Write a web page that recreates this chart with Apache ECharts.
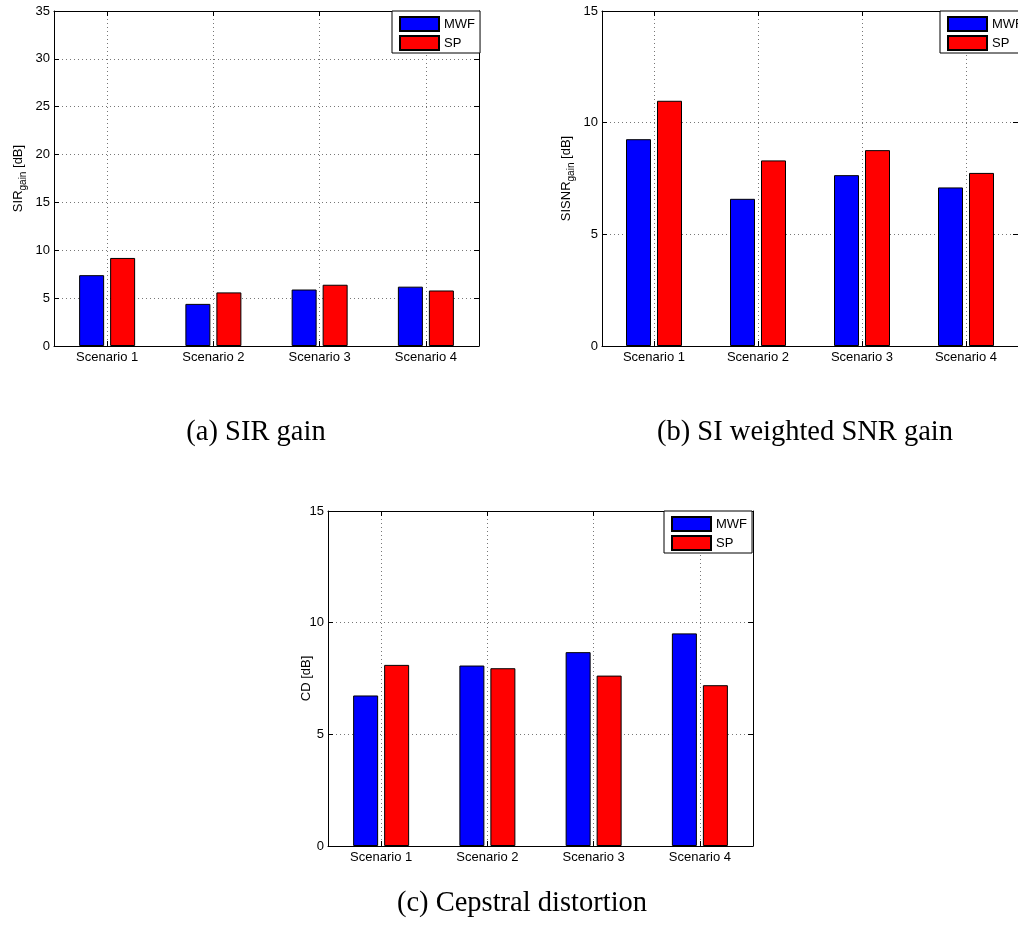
<!DOCTYPE html>
<html>
<head>
<meta charset="utf-8">
<script src="https://cdn.jsdelivr.net/npm/echarts@6/dist/echarts.min.js"></script>
<style>
html,body{margin:0;padding:0;background:#fff;}
#c{width:1018px;height:941px;}
</style>
</head>
<body>
<div id="c"></div>
<script>
// ---- data ----
var categories = ['Scenario 1', 'Scenario 2', 'Scenario 3', 'Scenario 4'];
var seriesNames = ['MWF', 'SP'];
var sirMWF = [7.4, 4.4, 5.9, 6.2];
var sirSP = [9.2, 5.6, 6.4, 5.8];
var sisnrMWF = [9.26, 6.59, 7.65, 7.10];
var sisnrSP = [10.98, 8.31, 8.77, 7.75];
var cdMWF = [6.74, 8.08, 8.68, 9.52];
var cdSP = [8.11, 7.96, 7.63, 7.20];
var yMaxA = 35, yMaxB = 15, yMaxC = 15, yStep = 5;
var captions = ['(a) SIR gain', '(b) SI weighted SNR gain', '(c) Cepstral distortion'];

var FONT = 'Liberation Sans, Arial, Helvetica, sans-serif';
var SERIF = 'Liberation Serif, Times New Roman, serif';
var dotted = { type: [1, 3], color: '#777', width: 1 };

var panels = [
  { left: 54, top: 11, max: yMaxA, mwf: sirMWF, sp: sirSP, name: 'SIR{sub|gain} [dB]', gap: 26, legendLeft: 392 },
  { left: 602, top: 11, max: yMaxB, mwf: sisnrMWF, sp: sisnrSP, name: 'SISNR{sub|gain} [dB]', gap: 26, legendLeft: 940 },
  { left: 328, top: 511, max: yMaxC, mwf: cdMWF, sp: cdSP, name: 'CD [dB]', gap: 15, legendLeft: 664 }
];

var grid = [], xAxis = [], yAxis = [], series = [], legend = [];
panels.forEach(function (p, i) {
  grid.push({ left: p.left, top: p.top, width: 425, height: 335, containLabel: false });
  xAxis.push({
    type: 'category', gridIndex: i, data: categories, position: 'bottom',
    axisLine: { show: true, lineStyle: { color: '#000', width: 1 } },
    axisTick: { show: true, inside: true, alignWithLabel: true, length: 5, lineStyle: { color: '#000' } },
    axisLabel: { show: true, color: '#000', fontSize: 13, fontFamily: FONT, margin: 5 },
    splitLine: { show: true, alignWithLabel: true, lineStyle: dotted }
  });
  xAxis.push({
    type: 'category', gridIndex: i, data: categories, position: 'top',
    axisLine: { show: true, onZero: false, lineStyle: { color: '#000', width: 1 } },
    axisTick: { show: true, inside: true, alignWithLabel: true, length: 5, lineStyle: { color: '#000' } },
    axisLabel: { show: false }, splitLine: { show: false }
  });
  yAxis.push({
    type: 'value', gridIndex: i, min: 0, max: p.max, interval: yStep, position: 'left',
    name: p.name, nameLocation: 'middle', nameRotate: 90, nameGap: p.gap, nameMoveOverlap: false,
    nameTextStyle: {
      color: '#000', fontSize: 13, fontFamily: FONT,
      rich: { sub: { fontSize: 10, fontFamily: FONT, color: '#000', padding: [9, 0, 0, 0], verticalAlign: 'top' } }
    },
    axisLine: { show: true, lineStyle: { color: '#000', width: 1 } },
    axisTick: { show: true, inside: true, length: 5, lineStyle: { color: '#000' } },
    axisLabel: { show: true, color: '#000', fontSize: 13, fontFamily: FONT, margin: 4 },
    splitLine: { show: true, lineStyle: dotted }
  });
  yAxis.push({
    type: 'value', gridIndex: i, min: 0, max: p.max, interval: yStep, position: 'right',
    axisLine: { show: true, onZero: false, lineStyle: { color: '#000', width: 1 } },
    axisTick: { show: true, inside: true, length: 5, lineStyle: { color: '#000' } },
    axisLabel: { show: false }, splitLine: { show: false }
  });
  var style = { borderColor: '#000', borderWidth: 1 };
  series.push({
    type: 'bar', name: seriesNames[0], xAxisIndex: i * 2, yAxisIndex: i * 2, data: p.mwf,
    barWidth: 25, barGap: '24%', itemStyle: Object.assign({ color: '#0000ff' }, style)
  });
  series.push({
    type: 'bar', name: seriesNames[1], xAxisIndex: i * 2, yAxisIndex: i * 2, data: p.sp,
    barWidth: 25, barGap: '24%', itemStyle: Object.assign({ color: '#ff0000' }, style)
  });
  legend.push({
    orient: 'vertical', left: p.legendLeft, top: p.top, data: seriesNames,
    icon: 'rect', itemWidth: 39, itemHeight: 14, itemGap: 3,
    padding: [5, 5, 2, 7], backgroundColor: '#fff', borderColor: '#000', borderWidth: 1,
    textStyle: { color: '#000', fontSize: 13, fontFamily: FONT, lineHeight: 14 },
    selectedMode: false
  });
});

var capPos = [[256, 433], [805, 433], [522, 904]];
var graphic = captions.map(function (t, i) {
  return {
    type: 'text', x: capPos[i][0], y: capPos[i][1], silent: true,
    style: { text: t, align: 'center', verticalAlign: 'middle', fill: '#000', font: '28.5px ' + SERIF }
  };
});

var chart = echarts.init(document.getElementById('c'), null, { renderer: 'canvas' });
chart.setOption({
  backgroundColor: '#fff',
  animation: false,
  grid: grid, xAxis: xAxis, yAxis: yAxis, series: series, legend: legend,
  graphic: graphic
});
</script>
</body>
</html>
